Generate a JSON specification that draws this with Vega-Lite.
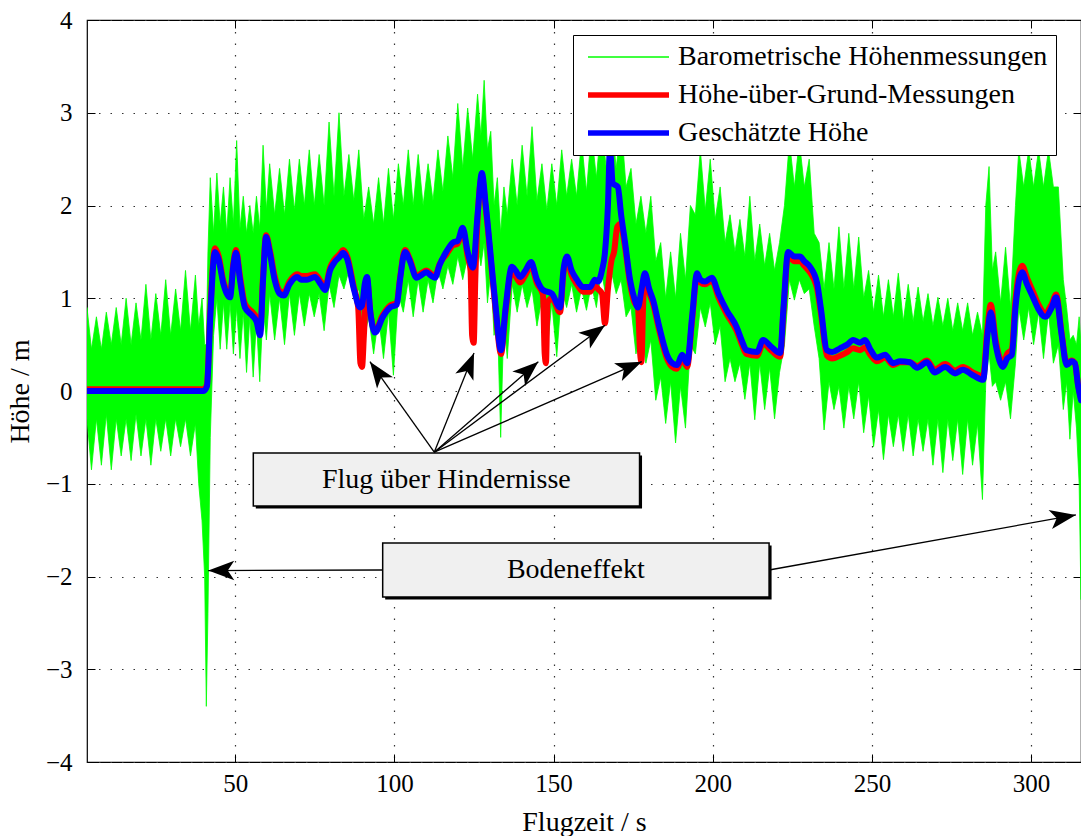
{
"$schema": "https://vega.github.io/schema/vega-lite/v6.json",
"width": 994, "height": 742,
"autosize": {"type": "none"},
"padding": {"left": 87, "top": 20, "right": 0, "bottom": 74},
"background": "white",
"config": {
 "font": "Liberation Serif",
 "view": {"stroke": "black", "strokeWidth": 1.2},
 "axis": {"labelFont": "Liberation Serif", "labelFontSize": 25, "labelColor": "black", "titleFont": "Liberation Serif", "titleFontSize": 28, "titleFontWeight": "normal", "titleColor": "black", "tickColor": "black", "tickSize": -8, "tickWidth": 1, "domain": false, "gridColor": "#333333", "gridDash": [1.5, 10], "gridWidth": 1.2, "gridOpacity": 1}
},
"datasets": {
 "baro": [
{"t":3.4,"lo":-0.3,"hi":0.9},{"t":4.8,"lo":-0.85,"hi":0.45},{"t":6.36,"lo":-0.3,"hi":0.8},{"t":7.92,"lo":-0.8,"hi":0.45},{"t":9.47,"lo":-0.25,"hi":0.85},{"t":11.03,"lo":-0.85,"hi":0.5},{"t":12.58,"lo":-0.3,"hi":0.9},{"t":14.14,"lo":-0.7,"hi":0.5},{"t":15.69,"lo":-0.3,"hi":1.0},{"t":17.25,"lo":-0.75,"hi":0.5},{"t":18.8,"lo":-0.25,"hi":0.95},{"t":20.36,"lo":-0.7,"hi":0.55},{"t":21.91,"lo":-0.3,"hi":1.15},{"t":23.47,"lo":-0.8,"hi":0.55},{"t":25.02,"lo":-0.3,"hi":1.05},{"t":26.58,"lo":-0.65,"hi":0.6},{"t":28.13,"lo":-0.3,"hi":1.2},{"t":29.69,"lo":-0.7,"hi":0.6},{"t":31.24,"lo":-0.3,"hi":1.1},{"t":32.8,"lo":-0.6,"hi":0.65},{"t":34.35,"lo":-0.3,"hi":1.3},{"t":35.91,"lo":-0.7,"hi":0.65},{"t":37.46,"lo":-0.35,"hi":1.25},{"t":38.5,"lo":-1.0,"hi":0.7},{"t":39.54,"lo":-1.4,"hi":1.0},{"t":40.37,"lo":-2.0,"hi":0.5},{"t":40.89,"lo":-3.4,"hi":0.5},{"t":41.4,"lo":-2.4,"hi":1.5},{"t":42.13,"lo":-0.5,"hi":2.3},{"t":43.16,"lo":0.6,"hi":1.7},{"t":44.2,"lo":1.0,"hi":2.35},{"t":45.24,"lo":0.45,"hi":1.8},{"t":46.28,"lo":0.95,"hi":2.2},{"t":47.31,"lo":0.45,"hi":1.7},{"t":48.35,"lo":0.95,"hi":2.3},{"t":49.39,"lo":0.4,"hi":1.8},{"t":50.42,"lo":0.9,"hi":2.7},{"t":51.46,"lo":0.35,"hi":1.75},{"t":52.5,"lo":0.85,"hi":2.1},{"t":53.53,"lo":0.2,"hi":1.7},{"t":54.57,"lo":0.8,"hi":2.0},{"t":55.61,"lo":0.15,"hi":1.7},{"t":56.64,"lo":0.75,"hi":2.1},{"t":57.68,"lo":0.1,"hi":1.75},{"t":58.72,"lo":0.9,"hi":2.65},{"t":59.76,"lo":0.55,"hi":1.95},{"t":60.79,"lo":1.05,"hi":2.45},{"t":62.35,"lo":0.55,"hi":1.9},{"t":63.9,"lo":1.0,"hi":2.4},{"t":65.46,"lo":0.5,"hi":1.9},{"t":67.01,"lo":1.05,"hi":2.5},{"t":68.57,"lo":0.6,"hi":1.95},{"t":70.12,"lo":1.05,"hi":2.5},{"t":71.68,"lo":0.7,"hi":2.0},{"t":73.23,"lo":1.05,"hi":2.6},{"t":74.79,"lo":0.8,"hi":2.0},{"t":76.34,"lo":1.05,"hi":2.55},{"t":77.9,"lo":0.65,"hi":2.0},{"t":79.45,"lo":1.15,"hi":2.9},{"t":81.01,"lo":0.9,"hi":2.1},{"t":82.57,"lo":1.25,"hi":3.0},{"t":84.12,"lo":1.1,"hi":2.1},{"t":85.68,"lo":1.3,"hi":2.55},{"t":87.23,"lo":1.0,"hi":2.05},{"t":88.79,"lo":1.1,"hi":2.6},{"t":90.34,"lo":0.55,"hi":1.85},{"t":91.9,"lo":0.8,"hi":2.2},{"t":93.45,"lo":0.4,"hi":1.8},{"t":95.01,"lo":0.8,"hi":2.3},{"t":96.56,"lo":0.35,"hi":1.8},{"t":98.12,"lo":0.85,"hi":2.4},{"t":99.67,"lo":0.17,"hi":1.85},{"t":101.23,"lo":1.05,"hi":2.45},{"t":102.78,"lo":0.85,"hi":2.0},{"t":104.34,"lo":1.2,"hi":2.6},{"t":105.89,"lo":0.8,"hi":2.0},{"t":107.45,"lo":1.2,"hi":2.55},{"t":109.0,"lo":0.85,"hi":2.0},{"t":110.56,"lo":1.2,"hi":2.45},{"t":112.11,"lo":0.95,"hi":2.05},{"t":113.67,"lo":1.3,"hi":2.6},{"t":115.22,"lo":1.1,"hi":2.15},{"t":116.78,"lo":1.35,"hi":2.75},{"t":118.34,"lo":1.15,"hi":2.3},{"t":119.89,"lo":1.45,"hi":3.1},{"t":121.45,"lo":1.2,"hi":2.4},{"t":123.0,"lo":1.45,"hi":3.05},{"t":124.56,"lo":1.0,"hi":2.5},{"t":126.11,"lo":1.6,"hi":3.2},{"t":127.15,"lo":1.35,"hi":2.75},{"t":128.18,"lo":1.6,"hi":3.35},{"t":129.22,"lo":0.95,"hi":2.6},{"t":130.26,"lo":1.3,"hi":2.8},{"t":131.29,"lo":0.6,"hi":2.0},{"t":132.33,"lo":0.8,"hi":2.3},{"t":133.37,"lo":-0.5,"hi":1.7},{"t":134.4,"lo":0.8,"hi":2.2},{"t":135.44,"lo":0.35,"hi":1.9},{"t":137.0,"lo":1.15,"hi":2.5},{"t":138.55,"lo":0.85,"hi":2.0},{"t":140.11,"lo":1.15,"hi":2.65},{"t":141.66,"lo":0.9,"hi":2.1},{"t":143.22,"lo":1.1,"hi":2.85},{"t":144.77,"lo":0.7,"hi":2.05},{"t":146.33,"lo":1.0,"hi":2.45},{"t":147.88,"lo":0.4,"hi":1.95},{"t":149.44,"lo":0.95,"hi":2.45},{"t":150.99,"lo":0.37,"hi":2.0},{"t":152.55,"lo":1.1,"hi":2.6},{"t":154.1,"lo":0.9,"hi":2.1},{"t":155.66,"lo":1.15,"hi":2.5},{"t":157.21,"lo":0.85,"hi":2.1},{"t":158.77,"lo":1.1,"hi":2.7},{"t":160.33,"lo":0.87,"hi":2.15},{"t":161.88,"lo":1.15,"hi":2.8},{"t":163.44,"lo":0.9,"hi":2.3},{"t":164.99,"lo":1.3,"hi":2.9},{"t":166.55,"lo":1.0,"hi":2.4},{"t":168.1,"lo":1.3,"hi":3.0},{"t":169.66,"lo":1.05,"hi":2.4},{"t":171.21,"lo":1.2,"hi":2.9},{"t":172.77,"lo":0.8,"hi":2.2},{"t":174.32,"lo":0.9,"hi":2.4},{"t":175.88,"lo":0.4,"hi":1.8},{"t":177.43,"lo":0.7,"hi":2.1},{"t":178.99,"lo":0.3,"hi":1.7},{"t":180.54,"lo":0.55,"hi":2.1},{"t":182.1,"lo":-0.1,"hi":1.4},{"t":183.65,"lo":0.15,"hi":1.6},{"t":185.21,"lo":-0.35,"hi":1.0},{"t":186.76,"lo":0.1,"hi":1.5},{"t":188.32,"lo":-0.56,"hi":1.0},{"t":189.87,"lo":0.05,"hi":1.7},{"t":191.43,"lo":-0.4,"hi":1.2},{"t":192.98,"lo":0.5,"hi":2.0},{"t":194.54,"lo":0.4,"hi":1.9},{"t":196.1,"lo":0.9,"hi":2.6},{"t":197.65,"lo":0.69,"hi":1.95},{"t":199.21,"lo":0.95,"hi":2.5},{"t":200.76,"lo":0.5,"hi":1.85},{"t":202.32,"lo":0.7,"hi":2.2},{"t":203.87,"lo":0.1,"hi":1.6},{"t":205.43,"lo":0.35,"hi":1.9},{"t":206.98,"lo":0.1,"hi":1.5},{"t":208.54,"lo":0.3,"hi":1.85},{"t":210.09,"lo":-0.09,"hi":1.45},{"t":211.65,"lo":0.3,"hi":2.1},{"t":213.2,"lo":-0.31,"hi":1.4},{"t":214.76,"lo":0.3,"hi":1.8},{"t":216.31,"lo":-0.2,"hi":1.35},{"t":217.87,"lo":0.25,"hi":1.7},{"t":219.42,"lo":-0.3,"hi":1.3},{"t":220.98,"lo":0.2,"hi":1.6},{"t":222.53,"lo":0.5,"hi":2.0},{"t":224.09,"lo":1.2,"hi":2.7},{"t":225.65,"lo":0.98,"hi":2.2},{"t":227.2,"lo":1.2,"hi":2.7},{"t":228.76,"lo":1.05,"hi":2.2},{"t":230.31,"lo":1.1,"hi":2.5},{"t":231.87,"lo":0.7,"hi":1.7},{"t":233.42,"lo":0.35,"hi":1.6},{"t":234.98,"lo":-0.42,"hi":1.1},{"t":236.53,"lo":0.1,"hi":1.6},{"t":238.09,"lo":-0.2,"hi":1.1},{"t":239.64,"lo":0.05,"hi":1.77},{"t":241.2,"lo":-0.4,"hi":1.1},{"t":242.75,"lo":0.05,"hi":1.7},{"t":244.31,"lo":-0.3,"hi":1.1},{"t":245.86,"lo":0.1,"hi":1.66},{"t":247.42,"lo":-0.45,"hi":1.0},{"t":248.97,"lo":-0.05,"hi":1.3},{"t":250.53,"lo":-0.6,"hi":0.85},{"t":252.08,"lo":-0.2,"hi":1.25},{"t":253.64,"lo":-0.74,"hi":0.8},{"t":255.19,"lo":-0.25,"hi":1.2},{"t":256.75,"lo":-0.6,"hi":0.8},{"t":258.3,"lo":-0.25,"hi":1.27},{"t":259.86,"lo":-0.65,"hi":0.75},{"t":261.41,"lo":-0.25,"hi":1.15},{"t":262.97,"lo":-0.7,"hi":0.75},{"t":264.52,"lo":-0.3,"hi":1.12},{"t":266.08,"lo":-0.65,"hi":0.75},{"t":267.63,"lo":-0.3,"hi":1.05},{"t":269.19,"lo":-0.8,"hi":0.7},{"t":270.74,"lo":-0.3,"hi":1.01},{"t":272.3,"lo":-0.88,"hi":0.7},{"t":273.85,"lo":-0.3,"hi":1.0},{"t":275.41,"lo":-0.75,"hi":0.65},{"t":276.96,"lo":-0.3,"hi":0.95},{"t":278.52,"lo":-0.9,"hi":0.65},{"t":280.08,"lo":-0.3,"hi":0.95},{"t":281.63,"lo":-0.8,"hi":0.6},{"t":283.19,"lo":-0.35,"hi":0.85},{"t":284.74,"lo":-1.17,"hi":0.6},{"t":285.78,"lo":0.1,"hi":2.0},{"t":286.81,"lo":0.4,"hi":2.42},{"t":287.85,"lo":0.05,"hi":1.3},{"t":288.89,"lo":0.1,"hi":1.5},{"t":290.44,"lo":-0.1,"hi":0.95},{"t":292.0,"lo":0.1,"hi":1.55},{"t":293.55,"lo":-0.3,"hi":0.9},{"t":295.11,"lo":0.3,"hi":2.0},{"t":296.15,"lo":0.9,"hi":2.6},{"t":297.7,"lo":0.55,"hi":2.2},{"t":299.26,"lo":0.9,"hi":2.6},{"t":300.81,"lo":0.5,"hi":2.2},{"t":302.37,"lo":0.85,"hi":2.6},{"t":303.92,"lo":0.35,"hi":2.2},{"t":305.48,"lo":0.85,"hi":2.6},{"t":307.03,"lo":0.3,"hi":2.2},{"t":308.59,"lo":0.5,"hi":2.2},{"t":310.14,"lo":-0.2,"hi":1.2},{"t":311.18,"lo":0.1,"hi":0.9},{"t":312.21,"lo":-0.52,"hi":0.55},{"t":313.25,"lo":0.0,"hi":0.6},{"t":314.29,"lo":-0.4,"hi":0.5},{"t":315.12,"lo":-1.0,"hi":0.8},{"t":315.7,"lo":-2.25,"hi":0.5}
 ],
 "est": [
{"t":3.4,"h":0},{"t":40.06,"h":0},{"t":41.09,"h":0.05},{"t":42.13,"h":0.8},{"t":43.58,"h":1.5},{"t":44.72,"h":1.42},{"t":46.28,"h":1.15},{"t":47.83,"h":1.02},{"t":48.35,"h":1.01},{"t":49.39,"h":1.35},{"t":50.22,"h":1.49},{"t":51.46,"h":1.2},{"t":53.02,"h":0.9},{"t":55.09,"h":0.82},{"t":56.64,"h":0.75},{"t":57.79,"h":0.6},{"t":58.72,"h":1.2},{"t":59.65,"h":1.66},{"t":60.79,"h":1.5},{"t":62.35,"h":1.2},{"t":63.9,"h":1.05},{"t":65.25,"h":1.03},{"t":67.01,"h":1.15},{"t":69.4,"h":1.23},{"t":70.64,"h":1.2},{"t":72.51,"h":1.2},{"t":74.99,"h":1.23},{"t":76.86,"h":1.15},{"t":78.21,"h":1.09},{"t":79.76,"h":1.3},{"t":81.01,"h":1.38},{"t":82.88,"h":1.45},{"t":83.81,"h":1.49},{"t":85.16,"h":1.42},{"t":87.23,"h":1.1},{"t":89.2,"h":0.9},{"t":89.82,"h":0.92},{"t":90.65,"h":1.15},{"t":91.38,"h":1.23},{"t":92.42,"h":0.85},{"t":93.87,"h":0.63},{"t":96.36,"h":0.8},{"t":98.64,"h":0.9},{"t":100.71,"h":0.93},{"t":101.75,"h":1.2},{"t":103.3,"h":1.5},{"t":104.86,"h":1.4},{"t":106.93,"h":1.22},{"t":108.49,"h":1.25},{"t":110.04,"h":1.28},{"t":111.6,"h":1.24},{"t":112.74,"h":1.22},{"t":114.19,"h":1.36},{"t":116.26,"h":1.5},{"t":118.34,"h":1.6},{"t":119.89,"h":1.62},{"t":121.45,"h":1.76},{"t":123.0,"h":1.5},{"t":124.66,"h":1.33},{"t":126.11,"h":1.9},{"t":127.46,"h":2.35},{"t":128.7,"h":2.0},{"t":130.57,"h":1.34},{"t":131.81,"h":0.9},{"t":133.47,"h":0.44},{"t":134.92,"h":0.9},{"t":136.89,"h":1.34},{"t":138.04,"h":1.3},{"t":139.49,"h":1.23},{"t":141.15,"h":1.3},{"t":142.91,"h":1.39},{"t":144.77,"h":1.2},{"t":146.64,"h":1.09},{"t":149.44,"h":1.05},{"t":152.03,"h":0.9},{"t":153.07,"h":1.3},{"t":154.21,"h":1.45},{"t":155.66,"h":1.3},{"t":157.32,"h":1.2},{"t":159.29,"h":1.12},{"t":161.47,"h":1.12},{"t":162.92,"h":1.2},{"t":163.96,"h":1.18},{"t":165.2,"h":1.3},{"t":166.13,"h":1.49},{"t":167.07,"h":2.0},{"t":167.69,"h":2.6},{"t":168.62,"h":2.24},{"t":170.18,"h":2.2},{"t":171.22,"h":1.9},{"t":172.46,"h":1.6},{"t":174.01,"h":1.2},{"t":175.36,"h":1.0},{"t":176.5,"h":0.9},{"t":177.64,"h":1.1},{"t":178.68,"h":1.27},{"t":180.03,"h":1.1},{"t":181.27,"h":0.98},{"t":183.14,"h":0.7},{"t":185.63,"h":0.39},{"t":187.29,"h":0.3},{"t":188.74,"h":0.28},{"t":190.4,"h":0.39},{"t":191.95,"h":0.3},{"t":193.51,"h":0.8},{"t":195.06,"h":1.27},{"t":196.1,"h":1.2},{"t":197.55,"h":1.18},{"t":199.73,"h":1.22},{"t":201.8,"h":1.05},{"t":204.39,"h":0.87},{"t":207.5,"h":0.69},{"t":209.06,"h":0.55},{"t":210.61,"h":0.44},{"t":213.93,"h":0.42},{"t":215.8,"h":0.55},{"t":218.6,"h":0.47},{"t":221.19,"h":0.41},{"t":222.23,"h":0.9},{"t":223.68,"h":1.5},{"t":225.65,"h":1.45},{"t":227.41,"h":1.45},{"t":228.76,"h":1.4},{"t":230.52,"h":1.34},{"t":232.8,"h":1.16},{"t":233.94,"h":0.9},{"t":235.91,"h":0.44},{"t":237.57,"h":0.42},{"t":239.96,"h":0.46},{"t":242.24,"h":0.5},{"t":244.1,"h":0.55},{"t":246.28,"h":0.52},{"t":247.84,"h":0.55},{"t":249.49,"h":0.45},{"t":251.57,"h":0.36},{"t":254.16,"h":0.39},{"t":256.65,"h":0.3},{"t":258.83,"h":0.32},{"t":261.94,"h":0.31},{"t":264.22,"h":0.25},{"t":267.33,"h":0.31},{"t":269.71,"h":0.2},{"t":273.03,"h":0.26},{"t":276.14,"h":0.19},{"t":278.63,"h":0.23},{"t":281.74,"h":0.17},{"t":284.95,"h":0.12},{"t":286.3,"h":0.6},{"t":287.34,"h":0.85},{"t":288.89,"h":0.5},{"t":291.17,"h":0.26},{"t":292.52,"h":0.35},{"t":293.97,"h":0.39},{"t":295.11,"h":0.9},{"t":297.19,"h":1.28},{"t":298.74,"h":1.15},{"t":300.61,"h":1.01},{"t":302.37,"h":0.88},{"t":304.44,"h":0.8},{"t":306.52,"h":0.9},{"t":307.87,"h":1.01},{"t":309.63,"h":0.6},{"t":311.18,"h":0.28},{"t":312.74,"h":0.32},{"t":313.78,"h":0.3},{"t":314.81,"h":0.05},{"t":315.7,"h":-0.1}
 ],
 "hog": [
{"t":3.4,"h":0.02},{"t":40.06,"h":0.02},{"t":41.09,"h":0.07},{"t":42.13,"h":0.85},{"t":43.58,"h":1.54},{"t":44.72,"h":1.46},{"t":46.28,"h":1.18},{"t":47.83,"h":1.05},{"t":48.35,"h":1.04},{"t":49.39,"h":1.38},{"t":50.22,"h":1.52},{"t":51.46,"h":1.24},{"t":53.02,"h":0.94},{"t":55.09,"h":0.86},{"t":56.64,"h":0.79},{"t":57.79,"h":0.64},{"t":58.72,"h":1.24},{"t":59.65,"h":1.68},{"t":60.79,"h":1.53},{"t":62.35,"h":1.24},{"t":63.9,"h":1.08},{"t":65.25,"h":1.06},{"t":67.01,"h":1.18},{"t":69.4,"h":1.26},{"t":70.64,"h":1.24},{"t":72.51,"h":1.24},{"t":74.99,"h":1.26},{"t":76.86,"h":1.18},{"t":78.21,"h":1.12},{"t":79.76,"h":1.33},{"t":81.01,"h":1.41},{"t":82.88,"h":1.48},{"t":83.81,"h":1.52},{"t":85.16,"h":1.45},{"t":87.23,"h":1.12},{"t":88.6,"h":0.9},{"t":89.3,"h":0.3},{"t":89.82,"h":0.26},{"t":90.4,"h":0.6},{"t":91.38,"h":1.2},{"t":92.42,"h":0.85},{"t":93.87,"h":0.65},{"t":96.36,"h":0.82},{"t":98.64,"h":0.92},{"t":100.71,"h":0.95},{"t":101.75,"h":1.22},{"t":103.3,"h":1.52},{"t":104.86,"h":1.42},{"t":106.93,"h":1.24},{"t":108.49,"h":1.27},{"t":110.04,"h":1.3},{"t":111.6,"h":1.26},{"t":112.74,"h":1.24},{"t":114.19,"h":1.37},{"t":116.26,"h":1.47},{"t":118.34,"h":1.57},{"t":119.89,"h":1.59},{"t":121.45,"h":1.73},{"t":123.0,"h":1.45},{"t":123.9,"h":1.3},{"t":124.4,"h":0.6},{"t":124.9,"h":0.52},{"t":125.4,"h":1.2},{"t":126.11,"h":1.85},{"t":127.46,"h":2.3},{"t":128.7,"h":1.96},{"t":130.57,"h":1.3},{"t":131.81,"h":0.86},{"t":133.47,"h":0.4},{"t":134.92,"h":0.86},{"t":136.89,"h":1.3},{"t":138.04,"h":1.24},{"t":139.49,"h":1.17},{"t":141.15,"h":1.25},{"t":142.91,"h":1.35},{"t":144.77,"h":1.16},{"t":146.64,"h":1.04},{"t":147.2,"h":0.4},{"t":147.6,"h":0.3},{"t":148.1,"h":0.95},{"t":149.44,"h":1.0},{"t":152.03,"h":0.85},{"t":153.07,"h":1.26},{"t":154.21,"h":1.41},{"t":155.66,"h":1.25},{"t":157.32,"h":1.15},{"t":159.29,"h":1.07},{"t":161.47,"h":1.07},{"t":162.92,"h":1.14},{"t":163.96,"h":1.1},{"t":165.2,"h":1.05},{"t":166.13,"h":0.73},{"t":167.07,"h":1.1},{"t":168.2,"h":1.41},{"t":169.0,"h":1.5},{"t":170.0,"h":1.77},{"t":171.0,"h":1.8},{"t":172.46,"h":1.55},{"t":174.01,"h":1.16},{"t":175.36,"h":0.96},{"t":176.5,"h":0.9},{"t":177.2,"h":0.4},{"t":177.6,"h":0.31},{"t":178.1,"h":0.9},{"t":178.68,"h":1.25},{"t":180.03,"h":1.06},{"t":181.27,"h":0.94},{"t":183.14,"h":0.66},{"t":185.63,"h":0.35},{"t":187.29,"h":0.26},{"t":188.74,"h":0.24},{"t":190.4,"h":0.35},{"t":191.95,"h":0.26},{"t":193.51,"h":0.76},{"t":195.06,"h":1.24},{"t":196.1,"h":1.17},{"t":197.55,"h":1.15},{"t":199.73,"h":1.19},{"t":201.8,"h":1.01},{"t":204.39,"h":0.83},{"t":207.5,"h":0.65},{"t":209.06,"h":0.51},{"t":210.61,"h":0.4},{"t":213.93,"h":0.38},{"t":215.8,"h":0.51},{"t":218.6,"h":0.43},{"t":221.19,"h":0.37},{"t":222.23,"h":0.86},{"t":223.68,"h":1.46},{"t":225.65,"h":1.4},{"t":227.41,"h":1.4},{"t":228.76,"h":1.35},{"t":230.52,"h":1.28},{"t":232.8,"h":1.1},{"t":233.94,"h":0.85},{"t":235.91,"h":0.38},{"t":237.57,"h":0.35},{"t":239.96,"h":0.38},{"t":242.24,"h":0.42},{"t":244.1,"h":0.46},{"t":246.28,"h":0.44},{"t":247.84,"h":0.47},{"t":249.49,"h":0.39},{"t":251.57,"h":0.32},{"t":254.16,"h":0.36},{"t":256.65,"h":0.28},{"t":258.83,"h":0.31},{"t":261.94,"h":0.31},{"t":264.22,"h":0.27},{"t":267.33,"h":0.33},{"t":269.71,"h":0.23},{"t":273.03,"h":0.29},{"t":276.14,"h":0.22},{"t":278.63,"h":0.26},{"t":281.74,"h":0.2},{"t":284.95,"h":0.16},{"t":286.3,"h":0.68},{"t":287.34,"h":0.93},{"t":288.89,"h":0.55},{"t":291.17,"h":0.3},{"t":292.52,"h":0.4},{"t":293.97,"h":0.45},{"t":295.11,"h":0.98},{"t":297.19,"h":1.35},{"t":298.74,"h":1.22},{"t":300.61,"h":1.07},{"t":302.37,"h":0.93},{"t":304.44,"h":0.84},{"t":306.52,"h":0.94},{"t":307.87,"h":1.04},{"t":309.63,"h":0.62},{"t":311.18,"h":0.3},{"t":312.74,"h":0.33},{"t":313.78,"h":0.3},{"t":314.81,"h":0.06},{"t":315.7,"h":-0.08}
 ],
 "boxes": [
{"x1":55.65,"x2":177.0,"y1":-0.668,"y2":-1.239,"label":"Flug über Hindernisse","tx":116.3,"ty":-0.955},
{"x1":96.3,"x2":217.7,"y1":-1.64,"y2":-2.22,"label":"Bodeneffekt","tx":157.0,"ty":-1.93}
 ],
 "arrows": [
{"x1":112.5,"y1":-0.66,"x2":92.3,"y2":0.316},
{"x1":112.5,"y1":-0.66,"x2":125.0,"y2":0.41},
{"x1":112.5,"y1":-0.66,"x2":145.2,"y2":0.316},
{"x1":112.5,"y1":-0.66,"x2":166.15,"y2":0.71},
{"x1":112.5,"y1":-0.66,"x2":177.7,"y2":0.316},
{"x1":96.3,"y1":-1.93,"x2":41.5,"y2":-1.936},
{"x1":217.7,"y1":-1.93,"x2":314.1,"y2":-1.336}
 ]
},
"resolve": {"axis": {"x": "independent", "y": "independent"}},
"layer": [
 {
  "data": {"name": "baro"},
  "mark": {"type": "area", "color": "#00ff00", "stroke": "#00ff00", "strokeWidth": 0.8, "clip": true},
  "encoding": {
   "x": {"field": "t", "type": "quantitative", "scale": {"domain": [3.4, 315.7], "nice": false, "zero": false},
         "axis": {"values": [50,100,150,200,250,300], "grid": true, "labelPadding": 17, "labelFlush": false, "title": "Flugzeit / s", "titleY": 60, "titleBaseline": "middle"}},
   "y": {"field": "hi", "type": "quantitative", "scale": {"domain": [-4, 4], "nice": false, "zero": false},
         "axis": {"values": [-4,-3,-2,-1,0,1,2,3,4], "grid": true, "labelPadding": 23, "labelFlush": false, "title": "Höhe / m", "titleX": -67, "titleY": 371, "titleBaseline": "middle", "titleAlign": "center"}},
   "y2": {"field": "lo"}
  }
 },
 {
  "data": {"name": "hog"},
  "mark": {"type": "line", "strokeWidth": 6, "interpolate": "monotone", "strokeJoin": "round", "strokeCap": "round", "clip": true},
  "encoding": {
   "x": {"field": "t", "type": "quantitative", "axis": null},
   "y": {"field": "h", "type": "quantitative", "axis": null},
   "color": {"datum": "Höhe-über-Grund-Messungen", "type": "nominal",
     "scale": {"domain": ["Barometrische Höhenmessungen", "Höhe-über-Grund-Messungen", "Geschätzte Höhe"], "range": ["#00ff00", "#ff0000", "#0000ff"]},
     "legend": {"title": null, "orient": "none", "legendX": 486, "legendY": 15, "symbolType": "M-2.7,0H2.7", "symbolSize": 900, "symbolStrokeWidth": 5, "symbolOffset": 33.5, "labelOffset": 35.5, "labelFont": "Liberation Serif", "labelFontSize": 28, "labelColor": "black", "labelLimit": 700, "padding": 8, "rowPadding": 10, "strokeColor": "black", "fillColor": "white",
       "encode": {"symbols": {"update": {"strokeWidth": {"signal": "datum.value === 'Barometrische Höhenmessungen' ? 1.3 : 5.5"}, "fill": {"value": "transparent"}}}}}}
  }
 },
 {
  "data": {"name": "est"},
  "mark": {"type": "line", "strokeWidth": 6, "interpolate": "monotone", "strokeJoin": "round", "strokeCap": "round", "clip": true},
  "encoding": {
   "x": {"field": "t", "type": "quantitative", "axis": {"orient": "top", "values": [50,100,150,200,250,300], "labels": false, "grid": false, "title": null}},
   "y": {"field": "h", "type": "quantitative", "axis": {"orient": "right", "values": [-4,-3,-2,-1,0,1,2,3,4], "labels": false, "grid": false, "title": null}},
   "color": {"datum": "Geschätzte Höhe", "type": "nominal"}
  }
 },
 {
  "data": {"name": "arrows"},
  "mark": {"type": "rule", "color": "black", "strokeWidth": 1.3},
  "encoding": {
   "x": {"field": "x1", "type": "quantitative", "axis": null},
   "y": {"field": "y1", "type": "quantitative", "axis": null},
   "x2": {"field": "x2"},
   "y2": {"field": "y2"}
  }
 },
 {
  "data": {"name": "arrows"},
  "mark": {"type": "point", "shape": "M0,0L0.75,2L0,1.5L-0.75,2Z", "size": 676, "filled": true, "color": "black", "opacity": 1,
           "angle": {"expr": "atan2(scale('x', datum.x2) - scale('x', datum.x1), scale('y', datum.y1) - scale('y', datum.y2)) * 180 / PI"}},
  "encoding": {
   "x": {"field": "x2", "type": "quantitative", "axis": null},
   "y": {"field": "y2", "type": "quantitative", "axis": null}
  }
 },
 {
  "data": {"name": "boxes"},
  "mark": {"type": "rect", "color": "black", "xOffset": 2.5, "x2Offset": 2.5, "yOffset": 2.5, "y2Offset": 2.5},
  "encoding": {
   "x": {"field": "x1", "type": "quantitative", "axis": null},
   "x2": {"field": "x2"},
   "y": {"field": "y1", "type": "quantitative", "axis": null},
   "y2": {"field": "y2"}
  }
 },
 {
  "data": {"name": "boxes"},
  "mark": {"type": "rect", "fill": "#f0f0f0", "stroke": "black", "strokeWidth": 1.5},
  "encoding": {
   "x": {"field": "x1", "type": "quantitative", "axis": null},
   "x2": {"field": "x2"},
   "y": {"field": "y1", "type": "quantitative", "axis": null},
   "y2": {"field": "y2"}
  }
 },
 {
  "data": {"name": "boxes"},
  "mark": {"type": "text", "font": "Liberation Serif", "fontSize": 28, "color": "black", "align": "center", "baseline": "middle"},
  "encoding": {
   "x": {"field": "tx", "type": "quantitative", "axis": null},
   "y": {"field": "ty", "type": "quantitative", "axis": null},
   "text": {"field": "label"}
  }
 }
]
}
